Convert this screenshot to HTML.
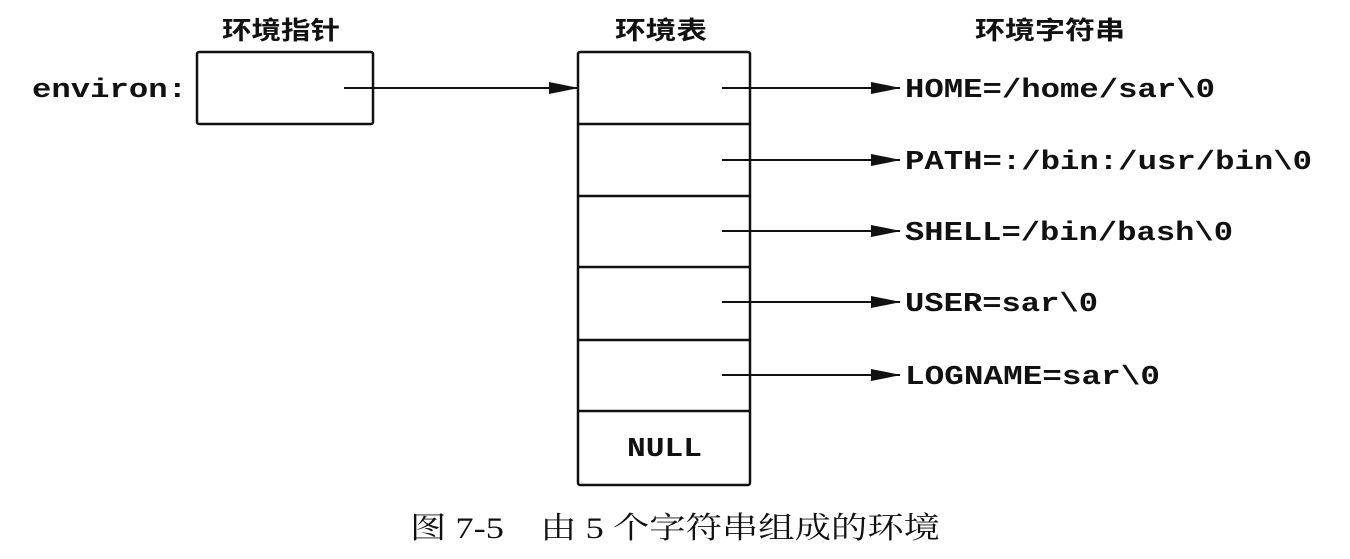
<!DOCTYPE html>
<html><head><meta charset="utf-8"><style>
body{margin:0;background:#fff;width:1350px;height:554px;overflow:hidden}
</style></head><body>
<svg width="1350" height="554" xmlns="http://www.w3.org/2000/svg">
<defs><marker id="a" markerWidth="30" markerHeight="12" refX="29" refY="6" orient="auto" markerUnits="userSpaceOnUse"><path d="M0,0 L30,6 L0,12 Z" fill="#111"/></marker></defs>
<g font-family="'Noto Sans CJK SC',sans-serif" font-weight="bold" font-size="25" fill="#111" lengthAdjust="spacingAndGlyphs">
<text x="222" y="39" textLength="118" lengthAdjust="spacingAndGlyphs">环境指针</text>
<text x="615" y="39" textLength="92" lengthAdjust="spacingAndGlyphs">环境表</text>
<text x="975" y="39" textLength="150" lengthAdjust="spacingAndGlyphs">环境字符串</text>
</g>
<g stroke="#111" stroke-width="2.5" fill="none">
<rect x="197" y="52" width="176" height="72" rx="2"/>
<rect x="578" y="52" width="172" height="433" rx="2"/>
<line x1="578" y1="124" x2="750" y2="124"/>
<line x1="578" y1="196" x2="750" y2="196"/>
<line x1="578" y1="267" x2="750" y2="267"/>
<line x1="578" y1="340" x2="750" y2="340"/>
<line x1="578" y1="411" x2="750" y2="411"/>
<g stroke-width="2" marker-end="url(#a)">
<line x1="344" y1="88" x2="578" y2="88"/>
<line x1="722" y1="88" x2="900" y2="88"/>
<line x1="722" y1="160" x2="900" y2="160"/>
<line x1="722" y1="231" x2="900" y2="231"/>
<line x1="722" y1="302" x2="900" y2="302"/>
<line x1="722" y1="375" x2="900" y2="375"/>
</g>
</g>
<g font-family="'Liberation Mono',monospace" font-weight="bold" font-size="27" fill="#111">
<text x="32" y="97" textLength="155" lengthAdjust="spacingAndGlyphs">environ:</text>
<text x="905" y="97" textLength="310" lengthAdjust="spacingAndGlyphs">HOME=/home/sar\0</text>
<text x="905" y="169" textLength="407" lengthAdjust="spacingAndGlyphs">PATH=:/bin:/usr/bin\0</text>
<text x="905" y="240" textLength="328" lengthAdjust="spacingAndGlyphs">SHELL=/bin/bash\0</text>
<text x="905" y="311" textLength="193" lengthAdjust="spacingAndGlyphs">USER=sar\0</text>
<text x="905" y="384" textLength="255" lengthAdjust="spacingAndGlyphs">LOGNAME=sar\0</text>
<text x="627" y="456" textLength="75" lengthAdjust="spacingAndGlyphs">NULL</text>
</g>
<text x="410" y="538" font-family="'Liberation Serif','Noto Serif CJK SC',serif" font-size="30" fill="#111" textLength="530" lengthAdjust="spacingAndGlyphs">图 7-5　由 5 个字符串组成的环境</text>
</svg>
</body></html>
